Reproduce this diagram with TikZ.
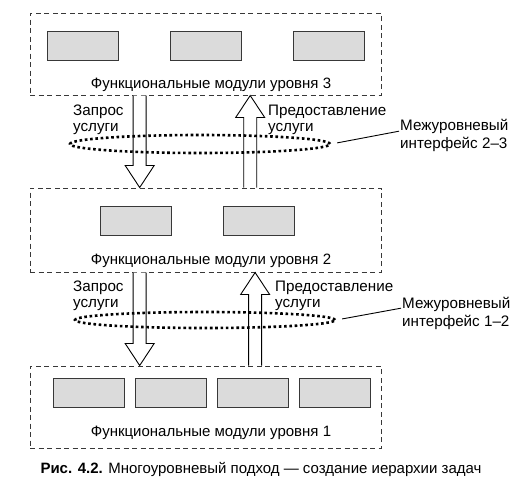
\documentclass[tikz,border=0pt]{standalone}
\usepackage{fontspec}
\setmainfont{Liberation Sans}
\usetikzlibrary{calc}
\usetikzlibrary{positioning}
\usetikzlibrary{shapes.geometric}
\definecolor{mgray}{rgb}{0.86, 0.86, 0.86}
\definecolor{mdark}{rgb}{0.22, 0.22, 0.22}

\tikzset{
  levelbox/.style={draw=mdark, line width=1pt, dash pattern=on 5pt off 3.5pt, minimum width=351, minimum height=82, inner sep=0},
  module/.style={draw=mdark, fill=mgray, line width=1pt, minimum width=71, minimum height=29, inner sep=0},
  iface/.style={draw=black, ellipse, line width=2.6pt, dash pattern=on 2.6pt off 2.7pt, minimum width=260, minimum height=18, inner sep=0},
  hollow/.style={draw=black, fill=white, line width=0.9pt, line join=miter},
  note/.style={align=left, inner sep=0, font=\fontsize{15.2}{16}\selectfont},
  inote/.style={align=left, inner sep=0, font=\fontsize{15.2}{18}\selectfont},
  title/.style={inner sep=0, font=\fontsize{15}{18}\selectfont}
}

\newcommand{\blockarrow}[2]{%
  \path ($(#2)!22pt!(#1)$) coordinate (neck);
  \draw[hollow] ($(#1)+(-6.5pt,0)$) -- ($(neck)+(-6.5pt,0)$) -- ($(neck)+(-14.5pt,0)$) -- (#2)
    -- ($(neck)+(14.5pt,0)$) -- ($(neck)+(6.5pt,0)$) -- ($(#1)+(6.5pt,0)$);
}

\begin{document}
\begin{tikzpicture}[x=1pt, y=-1pt]
  \useasboundingbox (0, 0) rectangle (523, 499);

  % levels
  \node [levelbox] (lvl3) at (205.5, 54) {};
  \node [levelbox, minimum height=84] (lvl2) at (205.5, 230) {};
  \node [levelbox] (lvl1) at (205.5, 407) {};

  \node [module] (m31) at (82.5, 45.5) {};
  \node [module] (m32) at (206, 45.5) {};
  \node [module] (m33) at (328.5, 45.5) {};
  \node [module] (m21) at (135.5, 221) {};
  \node [module] (m22) at (258.5, 221) {};
  \foreach \x/\i in {88.5/1, 170.5/2, 252.5/3, 334.5/4}
    \node [module] (m1\i) at (\x, 392.5) {};

  \node [title, anchor=base] (t3) at (211, 88) {Функциональные модули уровня 3};
  \node [title, anchor=base] (t2) at (211, 264) {Функциональные модули уровня 2};
  \node [title, anchor=base] (t1) at (211, 436) {Функциональные модули уровня 1};

  % arrows between levels
  \coordinate (req23a) at ($(lvl3.south west)!0.313!(lvl3.south east)$);
  \coordinate (req23b) at ($(lvl2.north west)!0.313!(lvl2.north east)$);
  \coordinate (srv23a) at ($(lvl2.north west)!0.627!(lvl2.north east)$);
  \coordinate (srv23b) at ($(lvl3.south west)!0.627!(lvl3.south east)$);
  \coordinate (req12a) at ($(lvl2.south west)!0.313!(lvl2.south east)$);
  \coordinate (req12b) at ($(lvl1.north west)!0.313!(lvl1.north east)$);
  \coordinate (srv12a) at ($(lvl1.north west)!0.641!(lvl1.north east)$);
  \coordinate (srv12b) at ($(lvl2.south west)!0.641!(lvl2.south east)$);
  \blockarrow{req23a}{req23b}
  \blockarrow{srv23a}{srv23b}
  \blockarrow{req12a}{req12b}
  \blockarrow{srv12a}{srv12b}

  % interfaces
  \node [iface] (if23) at (200, 144) {};
  \node [iface, minimum height=16] (if12) at (205, 320) {};

  \node [note, anchor=north west] (q23) at (73, 104.5) {Запрос\\услуги};
  \node [note, anchor=north west] (p23) at (268, 104.5) {Предоставление\\услуги};
  \node [note, anchor=north west] (q12) at (73, 281) {Запрос\\услуги};
  \node [note, anchor=north west] (p12) at (275, 281) {Предоставление\\услуги};

  \node [inote, anchor=west] (l23) at (400, 135) {Межуровневый\\интерфейс 2–3};
  \node [inote, anchor=west] (l12) at (402, 313) {Межуровневый\\интерфейс 1–2};
  \draw [line width=0.9pt, shorten <=6pt, shorten >=1pt] (if23.east) -- ($(l23.west)+(0,-4)$);
  \draw [line width=0.9pt, shorten <=6pt, shorten >=1pt] (if12.east) -- ($(l12.west)+(0,-5)$);

  \node [title, anchor=base] (cap) at (261, 473) {\textbf{Рис. 4.2.} Многоуровневый подход — создание иерархии задач};
\end{tikzpicture}
\end{document}
